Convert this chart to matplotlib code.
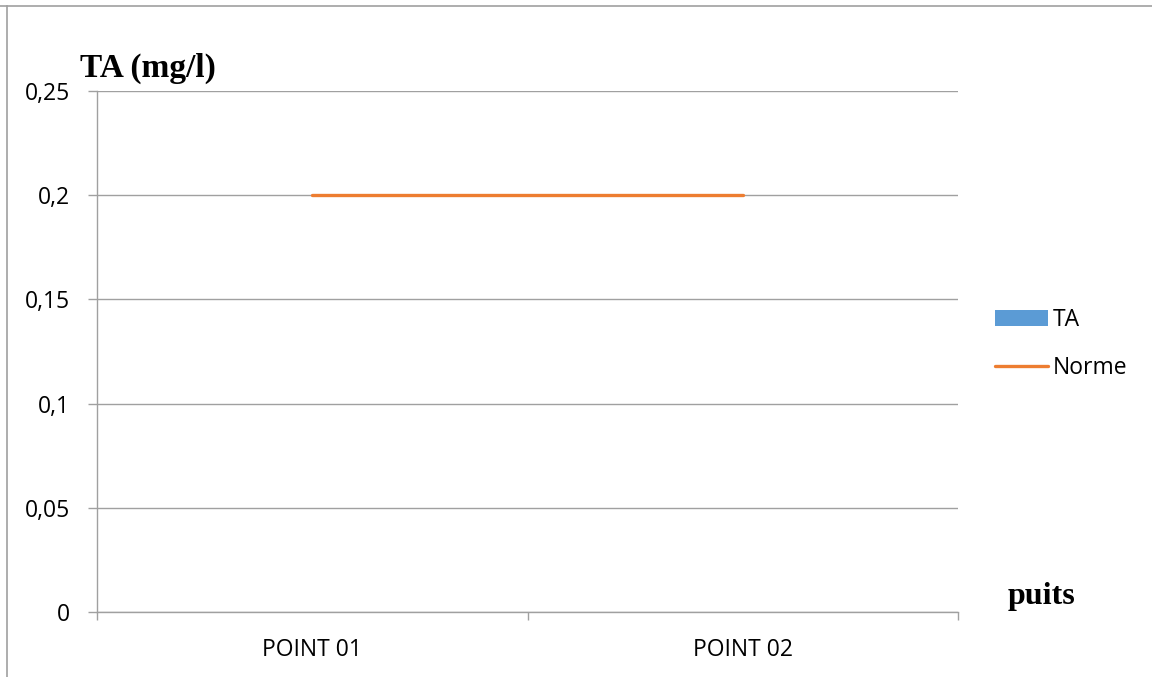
import numpy as np
import matplotlib
matplotlib.use("Agg")
import matplotlib.pyplot as plt
from matplotlib.lines import Line2D
from matplotlib.ticker import FixedLocator, FuncFormatter

# data
points = ["POINT 01", "POINT 02"]
ta_values = [0.0, 0.0]
norme_values = [0.2, 0.2]
y_ticks = [0, 0.05, 0.1, 0.15, 0.2, 0.25]

grey = "#a0a0a0"
tick_font = "Open Sans"
serif_font = "Liberation Serif"

fig = plt.figure(figsize=(11.52, 6.77), dpi=100)
ax = fig.add_axes([97 / 1152, 1 - 612 / 677, (958 - 97) / 1152, (612 - 91) / 677])

x = np.arange(len(points))
bars = ax.bar(x, ta_values, width=0.45, color="#5b9bd5", label="TA", zorder=2)
line, = ax.plot(x, norme_values, color="#ed7d31", lw=2.4, label="Norme",
                solid_capstyle="round", zorder=3)

ax.set_xlim(-0.5, len(points) - 0.5)
ax.set_ylim(0, 0.25)

# y axis: gridlines + outward ticks, comma decimals
ax.set_yticks(y_ticks)
ax.yaxis.set_major_formatter(FuncFormatter(lambda v, p: ("%g" % v).replace(".", ",")))
ax.grid(axis="y", color=grey, lw=1.0, zorder=0)
ax.tick_params(axis="y", length=6.5, width=1.0, color=grey, pad=13,
               labelsize=16.5, labelfontfamily=tick_font)

# x axis: labels at category centres, ticks at category boundaries
ax.set_xticks(x)
ax.set_xticklabels(points)
ax.tick_params(axis="x", which="major", length=0, pad=19,
               labelsize=16.5, labelfontfamily=tick_font)
ax.xaxis.set_minor_locator(FixedLocator(np.arange(-0.5, len(points), 1.0)))
ax.tick_params(axis="x", which="minor", length=6, width=1.0, color=grey)

for side in ["top", "right"]:
    ax.spines[side].set_visible(False)
for side in ["left", "bottom"]:
    ax.spines[side].set_color(grey)
    ax.spines[side].set_linewidth(1.0)

# axis titles
fig.text(80 / 1152, 1 - 77 / 677, "TA (mg/l)", family=serif_font, weight="bold",
         fontsize=24, ha="left", va="baseline")
fig.text(1008 / 1152, 1 - 604 / 677, "puits", family=serif_font, weight="bold",
         fontsize=23, ha="left", va="baseline")

ax.legend([bars, line], ["TA", "Norme"], loc="upper left",
          bbox_to_anchor=(995 / 1152, 1 - 308 / 677),
          bbox_transform=fig.transFigure, frameon=False,
          prop={"family": tick_font, "size": 16.5},
          handlelength=2.3, handletextpad=0.2, labelspacing=1.05, borderpad=0,
          borderaxespad=0)

# partial chart border (top and left edges)
fig.add_artist(Line2D([0, 1], [1 - 6 / 677] * 2, color=grey, lw=1.2, transform=fig.transFigure))
fig.add_artist(Line2D([7 / 1152] * 2, [0, 1 - 6 / 677], color=grey, lw=1.2, transform=fig.transFigure))

fig.savefig("out.png", dpi=100)
